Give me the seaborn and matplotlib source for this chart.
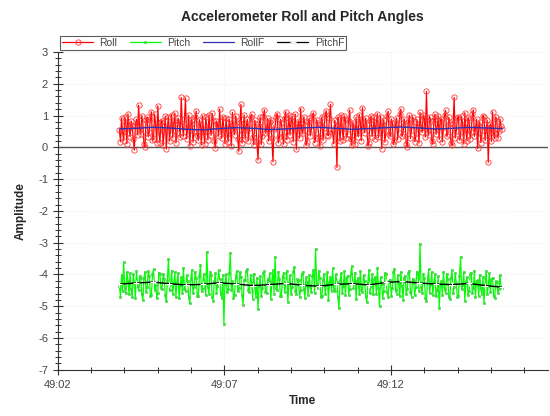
import numpy as np
import pandas as pd
import seaborn as sns
import matplotlib.pyplot as plt
from matplotlib.ticker import FixedLocator, MultipleLocator

# --- dados (segundos após 49:00) ---
T_START, T_END = 3.85, 15.33

roll = [
    0.55, 0.18, 0.92, 0.47, 0.21, 0.96, 0.78, 0.12, 1.05, 0.60, 0.34, 0.83, 0.66, 0.25, -0.08, 0.71, 0.88, 0.40, 1.32, 0.58,
    0.41, 1.00, 0.73, 0.09, 0.02, 0.86, 0.95, 0.33, 0.48, 0.90, 1.12, 0.22, 0.27, 1.04, 0.69, 0.15, 1.30, 0.52, 0.15, 0.81,
    0.84, 0.06, 0.52, 0.98, -0.05, 0.63, 0.97, 0.20, 0.61, 1.03, 0.30, 0.75, 1.08, 0.14, 0.44, 0.92, 0.79, 0.31, 1.57, 0.68,
    0.36, 0.88, 1.55, 0.27, 0.58, 1.01, 0.05, 0.74, 0.90, 0.16, 0.47, 0.95, 1.14, 0.38, 0.22, 0.87, 0.71, 0.08, 0.99, 0.49,
    0.12, 0.94, 0.63, 0.23, 1.02, 0.55, 0.38, 1.07, 0.85, 0.19, -0.02, 0.82, 0.74, 0.35, 1.20, 0.61, 0.29, 0.97, 0.56, 0.11,
    0.93, 0.42, 0.18, 0.89, 0.67, 0.04, 1.10, 0.59, 0.40, 0.99, 0.81, 0.26, -0.12, 0.77, 1.35, 0.13, 0.49, 1.02, 0.26, 0.70,
    0.88, 0.21, 0.60, 0.94, 1.04, 0.32, 0.08, 0.85, 0.72, 0.17, -0.40, 0.66, 0.95, 0.09, 0.35, 1.00, 1.18, 0.45, 0.53, 0.91,
    0.20, 0.79, 0.86, 0.28, -0.45, 0.58, 0.64, 0.97, 1.06, 0.14, 0.31, 0.88, 0.77, 0.37, 0.10, 0.93, 1.12, 0.24, 0.57, 1.01,
    0.39, 0.84, 0.98, 0.18, 0.68, 1.04, -0.06, 0.62, 0.83, 0.29, 1.22, 0.53, 0.45, 0.96, 0.70, 0.07, 0.16, 0.80, 0.91, 0.36,
    0.54, 0.99, 1.08, 0.15, 0.28, 0.87, 0.76, 0.33, 0.03, 0.71, 0.96, 0.22, 0.62, 1.02, 1.15, 0.40, 0.37, 0.92, 1.35, 0.48,
    0.50, 0.11, 0.85, 0.66, -0.63, 0.94, 0.73, 0.19, 1.02, 0.57, 0.24, 0.98, 0.89, 0.30, 0.42, 0.83, 1.17, 0.26, 0.06, 0.78,
    0.66, 0.10, 0.94, 0.52, 0.33, 1.03, 0.80, 0.21, 1.25, 0.69, 0.46, 0.92, 0.71, 0.05, 0.14, 0.86, 0.99, 0.34, 0.58, 0.95,
    0.27, 0.81, 1.06, 0.31, 0.63, 0.97, -0.04, 0.70, 0.87, 0.16, 0.51, 1.00, 1.13, 0.43, 0.35, 0.89, 0.78, 0.09, 0.19, 0.75,
    0.92, 0.25, 0.60, 1.05, 1.20, 0.37, 0.41, 0.90, 0.74, 0.12, 0.02, 0.79, 1.01, 0.28, 0.55, 0.96, 0.84, 0.18, 0.30, 0.88,
    0.69, 0.14, 1.10, 0.62, 0.47, 1.02, 0.93, 0.32, 1.76, 0.56, 0.38, 0.97, 0.82, 0.20, 0.11, 0.85, 1.04, 0.41, 0.59, 0.99,
    0.25, 0.83, 0.90, 0.17, 0.64, 1.01, 1.16, 0.36, 0.43, 0.94, 0.77, 0.13, 0.07, 0.72, 1.57, 0.29, 0.52, 0.91, 0.97, 0.23,
    0.34, 0.98, 0.71, 0.10, 1.09, 0.54, 0.20, 0.93, 0.86, 0.27, 0.48, 1.04, 1.18, 0.35, 0.62, 0.88, -0.03, 0.67, 0.80, 0.15,
    0.39, 1.00, 0.95, 0.22, 0.57, 0.85, -0.47, 0.61, 0.74, 0.19, 1.12, 0.44, 0.28, 0.96, 0.83, 0.30, 0.50, 0.89, 0.66, 0.58,
]

pitch = [
    -4.35, -4.70, -4.02, -4.52, -3.62, -4.41, -4.58, -3.92, -4.20, -4.63, -3.95, -4.47, -4.71, -3.98, -4.28, -4.74, -3.88, -4.36, -4.49, -4.05,
    -4.12, -4.61, -4.80, -4.10, -3.91, -4.55, -4.40, -3.89, -4.05, -4.69, -4.66, -4.00, -3.84, -4.48, -4.33, -4.73, -4.57, -3.94, -3.98, -4.42,
    -4.45, -3.97, -4.15, -4.64, -4.85, -4.19, -3.50, -4.50, -4.30, -3.88, -4.62, -4.27, -3.93, -4.70, -4.24, -3.96, -4.75, -4.34, -4.08, -4.58,
    -3.79, -4.46, -4.52, -4.03, -4.19, -4.72, -4.90, -4.14, -3.86, -4.59, -4.38, -3.92, -4.11, -4.67, -4.68, -4.06, -3.70, -4.51, -4.43, -3.99,
    -4.26, -4.65, -3.28, -4.39, -4.60, -3.91, -4.03, -4.71, -4.82, -4.22, -3.96, -4.57, -4.36, -3.87, -4.14, -4.62, -4.73, -4.01, -5.55, -4.30,
    -4.00, -4.56, -4.47, -3.95, -3.32, -4.48, -4.22, -4.74, -4.64, -4.08, -3.89, -4.53, -4.41, -3.93, -4.09, -4.66, -4.95, -4.17, -4.18, -3.90,
    -3.83, -4.49, -4.54, -4.02, -4.27, -4.76, -3.97, -4.40, -4.70, -4.11, -5.10, -4.35, -4.06, -4.68, -4.44, -3.94, -3.90, -4.55, -4.59, -4.13,
    -4.21, -3.96, -4.78, -4.24, -3.87, -4.60, -3.45, -4.44, -4.50, -3.91, -4.13, -4.69, -4.67, -4.07, -3.94, -4.54, -4.32, -3.88, -4.86, -4.28,
    -4.02, -4.63, -4.39, -3.93, -3.76, -4.52, -4.61, -4.15, -4.17, -4.70, -4.48, -3.99, -3.92, -4.45, -4.74, -4.09, -4.25, -4.66, -4.01, -4.37,
    -4.56, -4.04, -3.85, -4.58, -3.20, -4.31, -4.42, -3.89, -4.10, -4.72, -4.69, -4.18, -3.99, -4.61, -4.34, -3.92, -4.81, -4.26, -4.07, -4.53,
    -3.81, -4.47, -4.53, -4.00, -4.23, -4.71, -5.05, -4.20, -3.95, -4.57, -4.37, -3.90, -4.66, -4.12, -4.04, -4.64, -4.46, -3.97, -3.74, -4.43,
    -4.29, -3.94, -4.77, -4.19, -4.11, -4.62, -3.90, -4.48, -4.55, -4.03, -4.20, -4.68, -4.88, -4.27, -3.86, -4.59, -4.35, -3.98, -4.63, -4.14,
    -4.08, -4.60, -3.79, -4.42, -5.00, -4.09, -4.30, -4.73, -4.51, -3.95, -3.97, -4.56, -4.72, -4.21, -4.16, -4.67, -4.41, -3.93, -3.83, -4.50,
    -4.60, -4.02, -4.26, -4.69, -3.92, -4.35, -4.79, -4.10, -4.05, -4.62, -4.45, -3.96, -3.88, -4.54, -4.70, -4.13, -4.19, -4.66, -4.38, -3.91,
    -3.96, -4.51, -3.05, -4.40, -4.58, -3.99, -4.12, -4.73, -4.84, -4.18, -3.84, -4.57, -4.31, -3.93, -4.64, -4.24, -4.00, -4.69, -4.49, -4.06,
    -5.05, -4.33, -4.22, -4.64, -3.91, -4.47, -4.57, -3.97, -4.14, -4.70, -4.76, -4.11, -3.87, -4.59, -4.40, -3.95, -4.28, -4.72, -4.68, -4.05,
    -3.45, -4.46, -4.33, -3.92, -4.83, -4.23, -4.09, -4.65, -4.52, -4.00, -3.94, -4.58, -4.44, -3.89, -4.71, -4.20, -4.18, -4.67, -4.01, -4.43,
    -4.62, -4.08, -4.90, -4.30, -3.89, -4.61, -4.36, -3.96, -4.55, -4.14, -4.11, -4.68, -4.74, -4.21, -4.25, -4.57, -4.47, -4.02, -4.39, -4.44,
]

roll_f = [0.58, 0.60, 0.63, 0.61, 0.57, 0.55, 0.59, 0.62, 0.60, 0.56, 0.58, 0.61,
          0.63, 0.60, 0.57, 0.59, 0.62, 0.64, 0.61, 0.58, 0.60, 0.63, 0.61, 0.59]
pitch_f = [-4.30, -4.27, -4.24, -4.29, -4.33, -4.31, -4.26, -4.30, -4.35, -4.32, -4.28, -4.34,
           -4.37, -4.31, -4.29, -4.33, -4.25, -4.22, -4.27, -4.30, -4.32, -4.28, -4.35, -4.40]

x_ticks = [2, 7, 12]
x_labels = ['49:02', '49:07', '49:12']

t_raw = np.linspace(T_START, T_END, len(roll))
t_filt = np.linspace(T_START, T_END, len(roll_f))
raw = pd.DataFrame({'t': t_raw, 'Roll': roll, 'Pitch': pitch})
filt = pd.DataFrame({'t': t_filt, 'RollF': roll_f, 'PitchF': pitch_f})

sns.set_style("white")
plt.rcParams['font.family'] = ['Liberation Sans', 'DejaVu Sans']
plt.rcParams['axes.unicode_minus'] = False

fig = plt.figure(figsize=(5.5, 4.16), dpi=100)
ax = fig.add_axes([0.105, 0.111, 0.891, 0.764])

ax.axhline(0, color='#555555', lw=1.0, zorder=1)

sns.lineplot(data=raw, x='t', y='Roll', ax=ax, color='#ff0000', lw=0.9,
             marker='o', ms=3.8, mfc='none', mec='#ff3838', mew=0.6, label='Roll', zorder=3)
sns.lineplot(data=raw, x='t', y='Pitch', ax=ax, color='#00ff00', lw=0.9,
             marker='s', ms=1.8, mfc='#22ee22', mec='#44cc44', mew=0.4, label='Pitch', zorder=3)
sns.lineplot(data=filt, x='t', y='RollF', ax=ax, color='#3030b0', lw=1.0, label='RollF', zorder=4)
sns.lineplot(data=filt, x='t', y='PitchF', ax=ax, color='black', lw=1.0,
             marker='+', ms=4, mew=0.8, label='PitchF', zorder=4)

ax.set_xlim(2, 16.7)
ax.set_ylim(-7, 3)
ax.xaxis.set_major_locator(FixedLocator(x_ticks))
ax.set_xticklabels(x_labels)
ax.xaxis.set_minor_locator(MultipleLocator(1))
ax.yaxis.set_major_locator(MultipleLocator(1))
ax.yaxis.set_minor_locator(MultipleLocator(0.2))
ax.tick_params(axis='both', which='both', bottom=True, left=True)
ax.tick_params(axis='both', which='major', direction='inout', length=7, width=0.8,
               labelsize=8, labelcolor='#444444', color='#333333')
ax.tick_params(axis='both', which='minor', direction='inout', length=4, width=0.7, color='#333333')
ax.grid(True, which='major', color='#ededed', ls=':', lw=0.7)

for s in ['top', 'right']:
    ax.spines[s].set_visible(False)
for s in ['left', 'bottom']:
    ax.spines[s].set_color('#333333')
    ax.spines[s].set_linewidth(0.8)

ax.set_xlabel('Time', fontsize=8.5, fontweight='bold')
ax.set_ylabel('Amplitude', fontsize=8.5, fontweight='bold', labelpad=8)
ax.set_title('Accelerometer Roll and Pitch Angles', fontsize=10, fontweight='bold', pad=22)

leg = ax.legend(loc='lower left', bbox_to_anchor=(0.0, 1.0), ncol=4, fontsize=7.5,
                frameon=True, fancybox=False, edgecolor='#333333', borderpad=0.2,
                handlelength=3.0, columnspacing=1.2, handletextpad=0.6, borderaxespad=0.2)
leg.get_frame().set_linewidth(0.8)
for line in leg.get_lines():
    line.set_linewidth(0.9)
for txt in leg.get_texts():
    txt.set_color('#444444')

fig.savefig('out.png', dpi=100)
